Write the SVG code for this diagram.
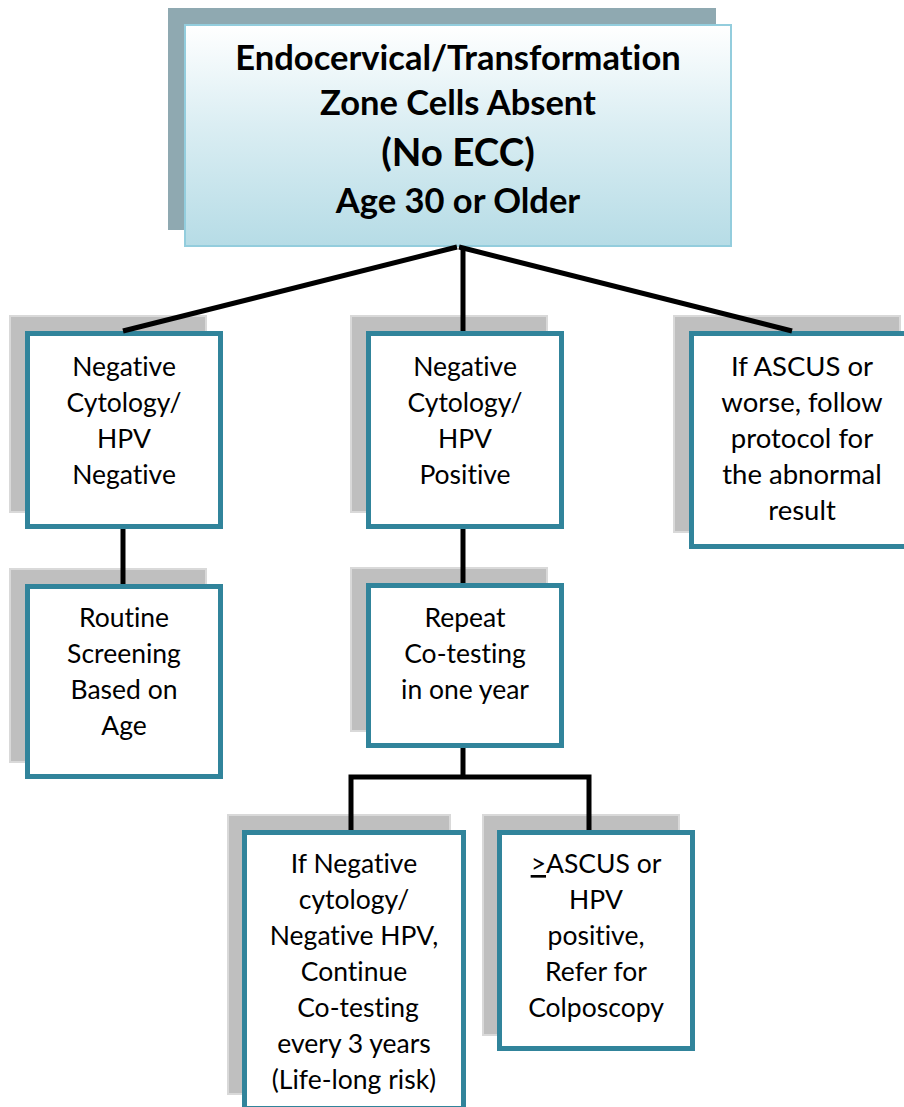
<svg xmlns="http://www.w3.org/2000/svg" width="904" height="1107" viewBox="0 0 904 1107">
  <defs>
    <linearGradient id="topFill" x1="0" y1="0" x2="0" y2="1">
      <stop offset="0" stop-color="#ffffff"/>
      <stop offset="0.45" stop-color="#dbeef3"/>
      <stop offset="1" stop-color="#b6dce6"/>
    </linearGradient>
    <style>
      text { font-variant-ligatures: none; font-feature-settings: "liga" 0; }
      .shadow { fill: #bfbfbf; stroke: #d9d9d9; stroke-width: 2; }
      .box { fill: #ffffff; stroke: #31849b; stroke-width: 5; }
      .title { font-family: Lato, "Liberation Sans", sans-serif; font-weight: bold; font-size: 34.5px; fill: #000; text-anchor: middle; }
      .label { font-family: Lato, "Liberation Sans", sans-serif; font-size: 26.5px; fill: #000; text-anchor: middle; }
      .link { fill: none; stroke: #000; stroke-width: 5; stroke-linejoin: miter; }
    </style>
  </defs>
  <rect width="904" height="1107" fill="#ffffff"/>

  <!-- root -->
  <g id="root">
    <rect x="168" y="8" width="548" height="222" fill="#8fa9b1"/>
    <rect x="185" y="25" width="546" height="221" fill="url(#topFill)" stroke="#93cddd" stroke-width="2"/>
    <text class="title" x="458" y="70">Endocervical/Transformation</text>
    <text class="title" x="458" y="115">Zone Cells Absent</text>
    <text class="title" x="458" y="166" style="font-size:38.5px">(No ECC)</text>
    <text class="title" x="458" y="213">Age 30 or Older</text>
  </g>

  <g id="neg-neg">
    <rect class="shadow" x="10" y="316" width="196" height="196"/>
    <rect class="box" x="27.5" y="333.5" width="193" height="193"/>
    <text class="label" x="124" y="376">Negative</text>
    <text class="label" x="124" y="412">Cytology/</text>
    <text class="label" x="124" y="448">HPV</text>
    <text class="label" x="124" y="484">Negative</text>
  </g>

  <g id="neg-pos">
    <rect class="shadow" x="351" y="316" width="196" height="196"/>
    <rect class="box" x="368.5" y="333.5" width="193" height="193"/>
    <text class="label" x="465" y="376">Negative</text>
    <text class="label" x="465" y="412">Cytology/</text>
    <text class="label" x="465" y="448">HPV</text>
    <text class="label" x="465" y="484">Positive</text>
  </g>

  <g id="ascus">
    <rect class="shadow" x="674" y="316" width="226" height="216"/>
    <rect class="box" x="691.5" y="333.5" width="224" height="213"/>
    <g style="font-size:27.5px">
      <text class="label" x="802" y="376" style="font-size:27.5px">If ASCUS or</text>
      <text class="label" x="802" y="412" style="font-size:27.5px">worse, follow</text>
      <text class="label" x="802" y="448" style="font-size:27.5px">protocol for</text>
      <text class="label" x="802" y="484" style="font-size:27.5px">the abnormal</text>
      <text class="label" x="802" y="520" style="font-size:27.5px">result</text>
    </g>
  </g>

  <g id="routine">
    <rect class="shadow" x="10" y="569" width="196" height="193"/>
    <rect class="box" x="27.5" y="586.5" width="193" height="190"/>
    <text class="label" x="124" y="627">Routine</text>
    <text class="label" x="124" y="663">Screening</text>
    <text class="label" x="124" y="699">Based on</text>
    <text class="label" x="124" y="735">Age</text>
  </g>

  <g id="repeat">
    <rect class="shadow" x="351" y="568" width="196" height="163"/>
    <rect class="box" x="368.5" y="585.5" width="193" height="160"/>
    <text class="label" x="465" y="627">Repeat</text>
    <text class="label" x="465" y="663">Co-testing</text>
    <text class="label" x="465" y="699">in one year</text>
  </g>

  <g id="continue">
    <rect class="shadow" x="228" y="815" width="222" height="279"/>
    <rect class="box" x="244.5" y="832.5" width="219" height="276"/>
    <text class="label" x="354" y="873">If Negative</text>
    <text class="label" x="354" y="909">cytology/</text>
    <text class="label" x="354" y="945">Negative HPV,</text>
    <text class="label" x="354" y="981">Continue</text>
    <text class="label" x="358" y="1017">Co-testing</text>
    <text class="label" x="354" y="1053">every 3 years</text>
    <text class="label" x="354" y="1089">(Life-long risk)</text>
  </g>

  <g id="colposcopy">
    <rect class="shadow" x="483" y="815" width="196" height="220"/>
    <rect class="box" x="499.5" y="832.5" width="193" height="216"/>
    <text class="label" x="596" y="873"><tspan text-decoration="underline">&gt;</tspan>ASCUS or</text>
    <text class="label" x="596" y="909">HPV</text>
    <text class="label" x="596" y="945">positive,</text>
    <text class="label" x="596" y="981">Refer for</text>
    <text class="label" x="596" y="1017">Colposcopy</text>
  </g>

  <!-- connectors, drawn over the box shadows -->
  <g id="connectors">
    <line class="link" x1="457" y1="247" x2="123" y2="331"/>
    <line class="link" x1="463" y1="246" x2="463" y2="331"/>
    <line class="link" x1="459" y1="247" x2="792" y2="331"/>
    <line class="link" x1="123" y1="529" x2="123" y2="584"/>
    <line class="link" x1="463" y1="529" x2="463" y2="583"/>
    <line class="link" x1="463" y1="748" x2="463" y2="777"/>
    <polyline class="link" points="351,830 351,777 589,777 589,830"/>
  </g>
</svg>
